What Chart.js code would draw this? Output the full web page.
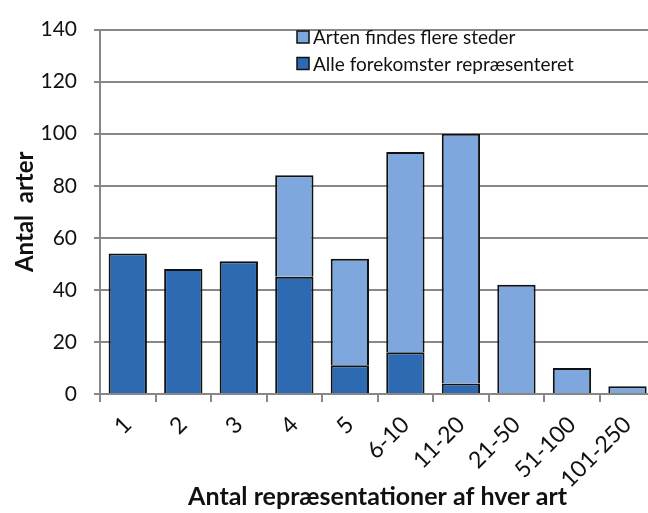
<!DOCTYPE html>
<html>
<head>
<meta charset="utf-8">
<script src="https://cdn.jsdelivr.net/npm/chart.js@4.4.1/dist/chart.umd.min.js"></script>
<style>
  html, body { margin: 0; padding: 0; background: #fff; overflow: hidden; }
  #wrap { width: 648px; height: 513px; overflow: hidden; }
</style>
</head>
<body>
<div id="wrap"><canvas id="chartArter" width="656" height="513"></canvas></div>
<script>
// kategorier og værdier
const categories = ['1', '2', '3', '4', '5', '6-10', '11-20', '21-50', '51-100', '101-250'];
const alleForekomster = [54, 48, 51, 45, 11, 16, 4, 0, 0, 0];
const flereSteder = [0, 0, 0, 39, 41, 77, 96, 42, 10, 3];
const yTicks = [0, 20, 40, 60, 80, 100, 120, 140];

const FONT = 'Lato, "Liberation Sans", sans-serif';
const GRID = '#878787';

// 0 tegnes ikke
function noZero(arr) {
    return arr.map(function(v) { return v === 0 ? null : v; });
}

// legend tegnes inde i plotområdet, som i originalen
const insideLegend = {
    id: 'insideLegend',
    afterDraw(chart) {
        const ctx = chart.ctx;
        const items = chart.data.datasets.slice().reverse();
        ctx.save();
        ctx.font = '19px ' + FONT;
        ctx.textBaseline = 'middle';
        ctx.textAlign = 'left';
        items.forEach(function(ds, i) {
            const y = 37 + i * 26.5;
            ctx.fillStyle = ds.backgroundColor;
            ctx.fillRect(297, y - 6, 12, 12);
            ctx.strokeStyle = '#111';
            ctx.lineWidth = 1.5;
            ctx.strokeRect(297, y - 6, 12, 12);
            ctx.fillStyle = '#111';
            ctx.fillText(ds.label, 313, y + 1);
        });
        ctx.restore();
    }
};

const data = {
    labels: categories,
    datasets: [{
        label: 'Alle forekomster repræsenteret',
        data: noZero(alleForekomster),
        backgroundColor: '#2E6AB2',
        borderColor: '#111',
        borderWidth: 2,
        barPercentage: 0.69,
        categoryPercentage: 1
    }, {
        label: 'Arten findes flere steder',
        data: noZero(flereSteder),
        backgroundColor: '#7DA7DD',
        borderColor: '#111',
        borderWidth: 2,
        barPercentage: 0.69,
        categoryPercentage: 1
    }]
};

const config = {
    type: 'bar',
    data: data,
    options: {
        responsive: false,
        animation: false,
        layout: { padding: { top: 12, right: 0, left: 0, bottom: 0 } },
        plugins: {
            legend: { display: false },
            tooltip: { enabled: false }
        },
        scales: {
            x: {
                stacked: true,
                afterFit: function(scale) { scale.height = 513 - 394; },
                grid: {
                    offset: true,
                    drawOnChartArea: false,
                    drawTicks: true,
                    tickLength: 8,
                    color: GRID,
                    lineWidth: 2
                },
                border: { color: GRID, width: 2 },
                ticks: {
                    color: '#111',
                    font: { family: FONT, size: 23 },
                    minRotation: 45,
                    maxRotation: 45,
                    padding: 9,
                    autoSkip: false
                },
                title: {
                    display: true,
                    text: 'Antal repræsentationer af hver art',
                    color: '#111',
                    font: { family: FONT, size: 25, weight: 'bold' },
                    padding: { top: 0, bottom: 1 }
                }
            },
            y: {
                stacked: true,
                min: 0,
                max: 140,
                afterFit: function(scale) { scale.width = 100; },
                afterBuildTicks: function(scale) {
                    scale.ticks = yTicks.map(function(v) { return { value: v }; });
                },
                grid: {
                    color: GRID,
                    lineWidth: 2,
                    tickLength: 6
                },
                border: { color: GRID, width: 2 },
                ticks: {
                    color: '#111',
                    font: { family: FONT, size: 21 },
                    padding: 17
                },
                title: {
                    display: true,
                    text: 'Antal  arter',
                    color: '#111',
                    font: { family: FONT, size: 24, weight: 'bold' },
                    padding: { top: 11, bottom: 0 }
                }
            }
        }
    },
    plugins: [insideLegend]
};

var chart = new Chart(document.getElementById('chartArter'), config);
</script>
</body>
</html>
